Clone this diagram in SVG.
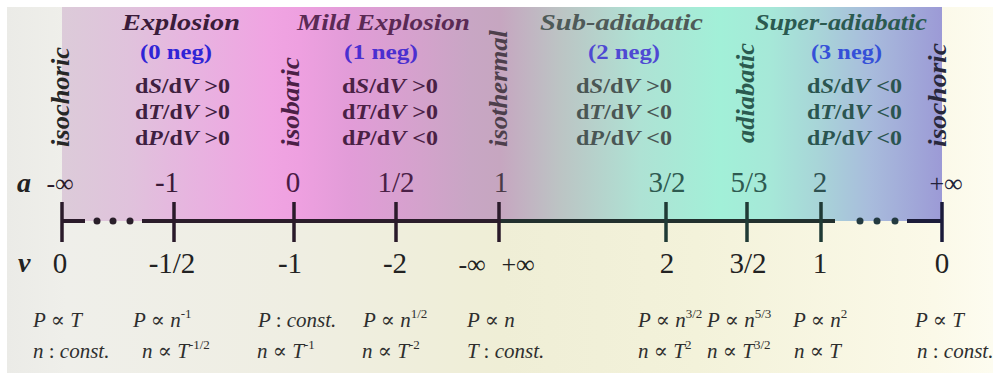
<svg xmlns="http://www.w3.org/2000/svg" width="993" height="379" viewBox="0 0 993 379">
<defs>
<linearGradient id="bg" gradientUnits="userSpaceOnUse" x1="7" y1="0" x2="993" y2="0">
<stop offset="0" stop-color="#ebebe7"/>
<stop offset="0.06" stop-color="#efefea"/>
<stop offset="0.3" stop-color="#efeee2"/>
<stop offset="0.5" stop-color="#efeed6"/>
<stop offset="0.7" stop-color="#f3f2da"/>
<stop offset="0.94" stop-color="#fbf9e8"/>
<stop offset="1" stop-color="#fdfcf0"/>
</linearGradient>
<linearGradient id="band" gradientUnits="userSpaceOnUse" x1="62" y1="0" x2="942" y2="0">
<stop offset="0" stop-color="#dccbd9"/>
<stop offset="0.077" stop-color="#e0c2dc"/>
<stop offset="0.157" stop-color="#e8b2e0"/>
<stop offset="0.236" stop-color="#f0a4e2"/>
<stop offset="0.27" stop-color="#eea0e0"/>
<stop offset="0.327" stop-color="#e29cd8"/>
<stop offset="0.407" stop-color="#d4a2cc"/>
<stop offset="0.464" stop-color="#c8a6c4"/>
<stop offset="0.498" stop-color="#c6a6c0"/>
<stop offset="0.566" stop-color="#bcc4c4"/>
<stop offset="0.657" stop-color="#aee2d4"/>
<stop offset="0.748" stop-color="#a2f0d8"/>
<stop offset="0.805" stop-color="#a6e8d8"/>
<stop offset="0.861" stop-color="#a8d4d8"/>
<stop offset="0.918" stop-color="#a8bcdc"/>
<stop offset="1" stop-color="#9c9ad6"/>
</linearGradient>
<style>
text{font-family:'Liberation Serif','DejaVu Serif',serif}
.title{font-weight:bold;font-style:italic;font-size:23px}
.neg{font-weight:bold;font-size:20px}
.der{font-weight:bold;font-size:20px}
.vert{font-weight:bold;font-style:italic;font-size:26px}
.num{font-size:29px;text-anchor:middle}
.inf{font-size:26px;text-anchor:middle}
.axl{font-weight:bold;font-style:italic;font-size:28px;fill:#222}
.f{font-style:italic;font-size:21px;fill:#2e2e2e}
.u{font-style:normal}
.sup{font-size:13px;font-style:normal}
.axis{stroke-width:4;fill:none}
.tick{stroke-width:3.5}
</style>
</defs>
<rect x="0" y="0" width="993" height="379" fill="#ffffff"/>
<rect x="7" y="7" width="986" height="366" fill="url(#bg)"/>
<rect x="62" y="7" width="880" height="214" fill="url(#band)"/>

<g id="titles">
<text class="title" x="122" y="30" fill="#3a1c3a" textLength="118" lengthAdjust="spacingAndGlyphs">Explosion</text>
<text class="title" x="297" y="30" fill="#5a2a55" textLength="173" lengthAdjust="spacingAndGlyphs">Mild Explosion</text>
<text class="title" x="540" y="30" fill="#4f5a58" textLength="163" lengthAdjust="spacingAndGlyphs">Sub-adiabatic</text>
<text class="title" x="755" y="30" fill="#2b5a50" textLength="172" lengthAdjust="spacingAndGlyphs">Super-adiabatic</text>
</g>

<g id="neg-counts">
<text class="neg" x="140" y="59" fill="#2f24d6" textLength="72" lengthAdjust="spacingAndGlyphs">(0 neg)</text>
<text class="neg" x="344" y="59" fill="#4b2fd0" textLength="74" lengthAdjust="spacingAndGlyphs">(1 neg)</text>
<text class="neg" x="588" y="59" fill="#4f49d3" textLength="72" lengthAdjust="spacingAndGlyphs">(2 neg)</text>
<text class="neg" x="811" y="59" fill="#3550d8" textLength="71" lengthAdjust="spacingAndGlyphs">(3 neg)</text>
</g>

<g id="explosion" fill="#3e2040">
<text class="der" x="135" y="93" textLength="95" lengthAdjust="spacingAndGlyphs">d<tspan font-style="italic">S</tspan>/d<tspan font-style="italic">V</tspan> &gt;0</text>
<text class="der" x="135" y="119" textLength="95" lengthAdjust="spacingAndGlyphs">d<tspan font-style="italic">T</tspan>/d<tspan font-style="italic">V</tspan> &gt;0</text>
<text class="der" x="135" y="145" textLength="95" lengthAdjust="spacingAndGlyphs">d<tspan font-style="italic">P</tspan>/d<tspan font-style="italic">V</tspan> &gt;0</text>
</g>
<g id="mild-explosion" fill="#4a2145">
<text class="der" x="342" y="93" textLength="96" lengthAdjust="spacingAndGlyphs">d<tspan font-style="italic">S</tspan>/d<tspan font-style="italic">V</tspan> &gt;0</text>
<text class="der" x="342" y="119" textLength="96" lengthAdjust="spacingAndGlyphs">d<tspan font-style="italic">T</tspan>/d<tspan font-style="italic">V</tspan> &gt;0</text>
<text class="der" x="342" y="145" textLength="96" lengthAdjust="spacingAndGlyphs">d<tspan font-style="italic">P</tspan>/d<tspan font-style="italic">V</tspan> &lt;0</text>
</g>
<g id="sub-adiabatic" fill="#4a5654">
<text class="der" x="576" y="93" textLength="96" lengthAdjust="spacingAndGlyphs">d<tspan font-style="italic">S</tspan>/d<tspan font-style="italic">V</tspan> &gt;0</text>
<text class="der" x="576" y="119" textLength="96" lengthAdjust="spacingAndGlyphs">d<tspan font-style="italic">T</tspan>/d<tspan font-style="italic">V</tspan> &lt;0</text>
<text class="der" x="576" y="145" textLength="96" lengthAdjust="spacingAndGlyphs">d<tspan font-style="italic">P</tspan>/d<tspan font-style="italic">V</tspan> &lt;0</text>
</g>
<g id="super-adiabatic" fill="#2b5550">
<text class="der" x="807" y="93" textLength="95" lengthAdjust="spacingAndGlyphs">d<tspan font-style="italic">S</tspan>/d<tspan font-style="italic">V</tspan> &lt;0</text>
<text class="der" x="807" y="119" textLength="95" lengthAdjust="spacingAndGlyphs">d<tspan font-style="italic">T</tspan>/d<tspan font-style="italic">V</tspan> &lt;0</text>
<text class="der" x="807" y="145" textLength="95" lengthAdjust="spacingAndGlyphs">d<tspan font-style="italic">P</tspan>/d<tspan font-style="italic">V</tspan> &lt;0</text>
</g>

<g id="process-labels">
<text class="vert" transform="translate(69,147) rotate(-90)" fill="#262626" textLength="100" lengthAdjust="spacingAndGlyphs">isochoric</text>
<text class="vert" transform="translate(299,147) rotate(-90)" fill="#4b2046" textLength="90" lengthAdjust="spacingAndGlyphs">isobaric</text>
<text class="vert" transform="translate(507,147) rotate(-90)" fill="#4d3f4c" textLength="117" lengthAdjust="spacingAndGlyphs">isothermal</text>
<text class="vert" transform="translate(754,143) rotate(-90)" fill="#2b5a4f" textLength="100" lengthAdjust="spacingAndGlyphs">adiabatic</text>
<text class="vert" transform="translate(946,147) rotate(-90)" fill="#28283c" textLength="104" lengthAdjust="spacingAndGlyphs">isochoric</text>
</g>

<g id="connectors">
<path class="axis" d="M62 221H85" stroke="#2a1a2a"/>
<path class="axis" d="M142 221H499" stroke="#2b1d2b"/>
<path class="axis" d="M499 221H835" stroke="#22302e"/>
<path class="axis" d="M907 221H942" stroke="#1c1c3a"/>
<g fill="#2a1f2a"><circle cx="97" cy="221" r="3.5"/><circle cx="113" cy="221" r="3.5"/><circle cx="130" cy="221" r="3.5"/></g>
<g fill="#233a40"><circle cx="860" cy="221" r="3.5"/><circle cx="877" cy="221" r="3.5"/><circle cx="895" cy="221" r="3.5"/></g>
<g class="tick">
<path d="M62 202V242" stroke="#2a1a2a"/>
<path d="M174 202V242" stroke="#2a1a2a"/>
<path d="M294 202V242" stroke="#2a1a2a"/>
<path d="M396 202V242" stroke="#2a1a2a"/>
<path d="M499 202V242" stroke="#2a1a2a"/>
<path d="M666 202V242" stroke="#1f3a35"/>
<path d="M747 202V242" stroke="#1f3a35"/>
<path d="M821 202V242" stroke="#1f3a35"/>
<path d="M942 202V242" stroke="#1a1a3a"/>
</g>
</g>

<g id="a-row">
<text class="axl" x="17" y="192">a</text>
<text class="inf" x="60" y="192" fill="#2a1a2a">-∞</text>
<text class="num" x="167" y="192" fill="#3a1a38">-1</text>
<text class="num" x="293" y="192" fill="#4a1a45">0</text>
<text class="num" x="396" y="192" fill="#4a2046">1/2</text>
<text class="num" x="501" y="192" fill="#4a3a48">1</text>
<text class="num" x="667" y="192" fill="#2e5a50">3/2</text>
<text class="num" x="749" y="192" fill="#2e5a50">5/3</text>
<text class="num" x="820" y="192" fill="#2e5050">2</text>
<text class="inf" x="946" y="192" fill="#22223a">+∞</text>
</g>

<g id="v-row" fill="#222">
<text class="axl" x="18" y="272">v</text>
<text class="num" x="60" y="273">0</text>
<text class="num" x="172" y="273">-1/2</text>
<text class="num" x="290" y="273">-1</text>
<text class="num" x="395" y="273">-2</text>
<text class="inf" x="472" y="273">-∞</text>
<text class="inf" x="518" y="273">+∞</text>
<text class="num" x="667" y="273">2</text>
<text class="num" x="748" y="273">3/2</text>
<text class="num" x="820" y="273">1</text>
<text class="num" x="942" y="273">0</text>
</g>

<g id="relations-P">
<text class="f" x="33" y="327">P <tspan class="u">∝</tspan> T</text>
<text class="f" x="133" y="327">P <tspan class="u">∝</tspan> n<tspan class="sup" dy="-9">-1</tspan></text>
<text class="f" x="258" y="327">P <tspan class="u">:</tspan> const.</text>
<text class="f" x="363" y="327">P <tspan class="u">∝</tspan> n<tspan class="sup" dy="-9">1/2</tspan></text>
<text class="f" x="467" y="327">P <tspan class="u">∝</tspan> n</text>
<text class="f" x="638" y="327">P <tspan class="u">∝</tspan> n<tspan class="sup" dy="-9">3/2</tspan></text>
<text class="f" x="707" y="327">P <tspan class="u">∝</tspan> n<tspan class="sup" dy="-9">5/3</tspan></text>
<text class="f" x="793" y="327">P <tspan class="u">∝</tspan> n<tspan class="sup" dy="-9">2</tspan></text>
<text class="f" x="915" y="327">P <tspan class="u">∝</tspan> T</text>
</g>
<g id="relations-n">
<text class="f" x="33" y="358">n <tspan class="u">:</tspan> const.</text>
<text class="f" x="142" y="358">n <tspan class="u">∝</tspan> T<tspan class="sup" dy="-9">-1/2</tspan></text>
<text class="f" x="257" y="358">n <tspan class="u">∝</tspan> T<tspan class="sup" dy="-9">-1</tspan></text>
<text class="f" x="362" y="358">n <tspan class="u">∝</tspan> T<tspan class="sup" dy="-9">-2</tspan></text>
<text class="f" x="467" y="358">T <tspan class="u">:</tspan> const.</text>
<text class="f" x="638" y="358">n <tspan class="u">∝</tspan> T<tspan class="sup" dy="-9">2</tspan></text>
<text class="f" x="707" y="358">n <tspan class="u">∝</tspan> T<tspan class="sup" dy="-9">3/2</tspan></text>
<text class="f" x="794" y="358">n <tspan class="u">∝</tspan> T</text>
<text class="f" x="917" y="358">n <tspan class="u">:</tspan> const.</text>
</g>
</svg>
